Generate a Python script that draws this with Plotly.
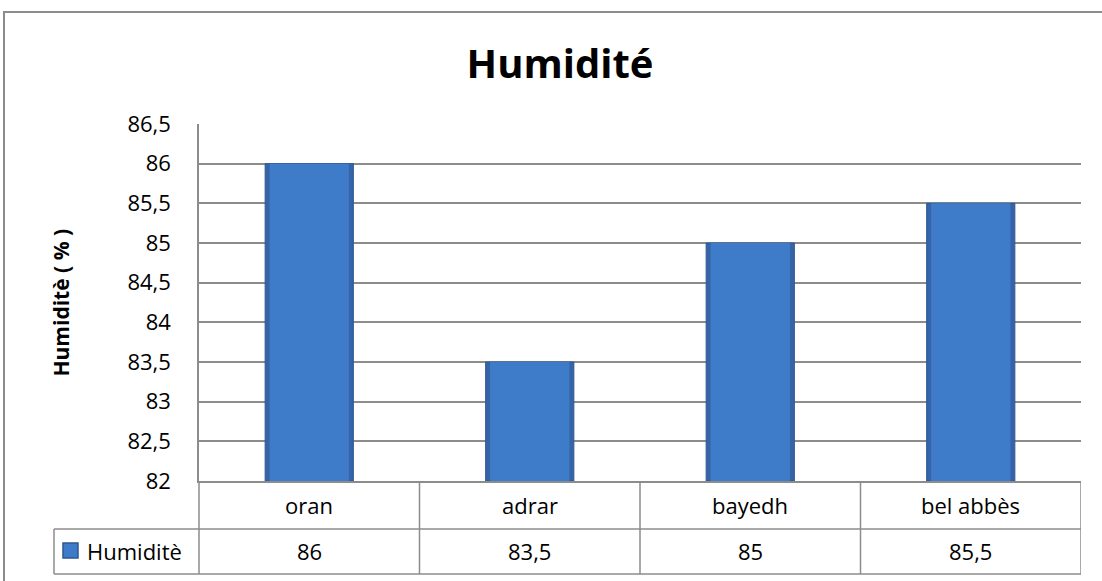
import plotly.graph_objects as go

categories = ["oran", "adrar", "bayedh", "bel abbès"]
values = [86, 83.5, 85, 85.5]
series_name = "Humiditè"
title_text = "Humidité"
y_title = "Humiditè ( % )"
y_ticks = [82, 82.5, 83, 83.5, 84, 84.5, 85, 85.5, 86, 86.5]

def fmt(v):
    s = ("%g" % v)
    return s.replace(".", ",")

FONT = "Open Sans, Noto Sans, DejaVu Sans, sans-serif"
GRID = "#8C8C8C"

fig = go.Figure()
fig.add_trace(go.Bar(x=categories, y=[v - 82 for v in values], base=82, width=0.40,
                     marker=dict(color="#3565A8", line=dict(color="#2E5890", width=1)),
                     hoverinfo="skip", showlegend=False))
fig.add_trace(go.Bar(x=categories, y=[v - 82 for v in values], base=82, width=0.36,
                     marker=dict(color="#3E7BC8", line=dict(width=0)),
                     name=series_name, showlegend=False))

W, H = 1102, 581
L, R, T, B = 199, 21, 124, 100

shapes = []
line = dict(color=GRID, width=1.5)
for i in range(len(categories)):
    shapes.append(dict(type="line", xref="x", x0=i + 0.5, x1=i + 0.5,
                       yref="paper", yanchor=0, ysizemode="pixel", y0=0, y1=-93, line=line))
shapes.append(dict(type="line", xref="paper", x0=0, x1=0,
                   yref="paper", yanchor=0, ysizemode="pixel", y0=0, y1=-93, line=line))
for yy in (-48, -93):
    shapes.append(dict(type="line", xref="paper", xanchor=0, xsizemode="pixel", x0=-145, x1=882,
                       yref="paper", yanchor=0, ysizemode="pixel", y0=yy, y1=yy, line=line))
shapes.append(dict(type="line", xref="paper", xanchor=0, xsizemode="pixel", x0=-145, x1=-145,
                   yref="paper", yanchor=0, ysizemode="pixel", y0=-48, y1=-93, line=line))
shapes.append(dict(type="rect", xref="paper", xanchor=0, xsizemode="pixel", x0=-136, x1=-121,
                   yref="paper", yanchor=0, ysizemode="pixel", y0=-62, y1=-77,
                   fillcolor="#3E7BC8", line=dict(color="#2E5890", width=1.5)))
shapes.append(dict(type="rect", xref="paper", xanchor=0, xsizemode="pixel", x0=-195, x1=920,
                   yref="paper", yanchor=1, ysizemode="pixel", y0=112, y1=-470,
                   line=dict(color=GRID, width=2), fillcolor="rgba(0,0,0,0)", layer="below"))

annotations = []
for i, (c, v) in enumerate(zip(categories, values)):
    annotations.append(dict(x=c, xref="x", y=0, yref="paper", yshift=-24, text=c,
                            showarrow=False, yanchor="middle", font=dict(size=22, color="#000")))
    annotations.append(dict(x=c, xref="x", y=0, yref="paper", yshift=-70, text=fmt(v),
                            showarrow=False, yanchor="middle", font=dict(size=22, color="#000")))
annotations.append(dict(x=0, xref="paper", xshift=-114, y=0, yref="paper", yshift=-70,
                        text=series_name, showarrow=False, xanchor="left", yanchor="middle",
                        font=dict(size=22, color="#000")))
annotations.append(dict(x=0, xref="paper", xshift=-139, y=0.5, yref="paper", text="<b>" + y_title + "</b>",
                        textangle=-90, showarrow=False, xanchor="center", yanchor="middle",
                        font=dict(size=21, color="#000")))

fig.update_layout(
    width=W, height=H,
    margin=dict(l=L, r=R, t=T, b=B, autoexpand=False),
    paper_bgcolor="white", plot_bgcolor="white",
    font=dict(family=FONT, color="#000"),
    separators=", ",
    barmode="overlay",
    bargap=0.6,
    title=dict(text="<b>" + title_text + "</b>", x=560 / W, xanchor="center", xref="container",
               y=1 - 64 / H, yanchor="middle", yref="container",
               font=dict(size=40, color="#000", family=FONT)),
    xaxis=dict(type="category", range=[-0.5, len(categories) - 0.5], showticklabels=False,
               showgrid=False, zeroline=False, showline=True, linecolor=GRID, linewidth=1.5,
               ticks=""),
    yaxis=dict(range=[82, 86.5], tickvals=y_ticks, ticktext=[fmt(t) for t in y_ticks],
               showgrid=True, gridcolor=GRID, gridwidth=1.5, zeroline=False,
               showline=True, linecolor=GRID, linewidth=1.5, ticks="",
               ticklabelstandoff=22, tickfont=dict(size=22, color="#000")),
    shapes=shapes,
    annotations=annotations,
    showlegend=False,
)

fig.write_html("out.html", config={"displayModeBar": False},
               post_script="document.body.style.margin='0px';document.body.style.overflow='hidden';")
